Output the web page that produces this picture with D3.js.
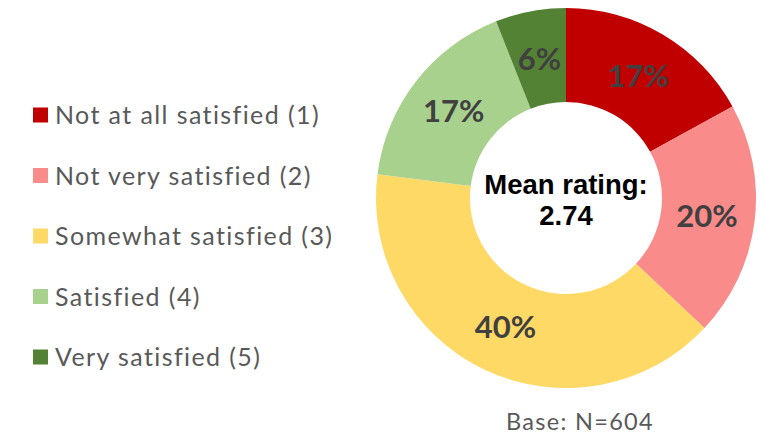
<!DOCTYPE html>
<html lang="en">
<head>
<meta charset="UTF-8" />
<title>Satisfaction</title>
<script src="https://d3js.org/d3.v7.min.js"></script>
<style>
  body { margin: 0; background: #fff; }
  text { font-family: "Lato", "Open Sans", sans-serif; }
</style>
</head>
<body>
<div class="canvas"></div>
<script>
const categories = ["Not at all satisfied (1)", "Not very satisfied (2)", "Somewhat satisfied (3)", "Satisfied (4)", "Very satisfied (5)"];
const shares = [17, 20, 40, 17, 6];
const pctLabels = ["17%", "20%", "40%", "17%", "6%"];
const colors = ["#C00000", "#F98B8B", "#FFD966", "#A9D18E", "#548235"];
const meanLines = ["Mean rating:", "2.74"];
const baseNote = "Base: N=604";

const width = 764, height = 446;
const cx = 566, cy = 198;
const outerR = 190, innerR = 96;

const svg = d3.select(".canvas").append("svg")
  .attr("width", width).attr("height", height);

const pie = d3.pie().sort(null).value(d => d)(shares);
const arc = d3.arc().innerRadius(innerR).outerRadius(outerR);
const labelArc = d3.arc().innerRadius(94).outerRadius(190);

const g = svg.append("g").attr("transform", `translate(${cx},${cy})`);

g.selectAll("path").data(pie).enter().append("path")
  .attr("d", arc)
  .attr("fill", (d, i) => colors[i]);

g.selectAll(".pct").data(pie).enter().append("text")
  .attr("class", "pct")
  .attr("transform", d => `translate(${labelArc.centroid(d)})`)
  .attr("text-anchor", "middle")
  .attr("dy", "0.36em")
  .attr("fill", "#404040")
  .style("font-size", "31px")
  .style("font-weight", "bold")
  .text((d, i) => pctLabels[i]);

// centre text
g.selectAll(".mean").data(meanLines).enter().append("text")
  .attr("class", "mean")
  .attr("text-anchor", "middle")
  .attr("y", (d, i) => -4 + i * 31)
  .attr("fill", "#000")
  .style("font-family", "'Liberation Sans', Arial, sans-serif")
  .style("font-size", "27.5px")
  .style("font-weight", "bold")
  .text(d => d);

svg.append("text")
  .attr("x", 580).attr("y", 430)
  .attr("text-anchor", "middle")
  .attr("fill", "#595959")
  .style("font-size", "23.5px")
  .style("letter-spacing", "1.3px")
  .text(baseNote);

// legend
const legend = svg.selectAll(".leg").data(categories).enter().append("g")
  .attr("class", "leg")
  .attr("transform", (d, i) => `translate(33,${115 + i * 60.5})`);

legend.append("rect")
  .attr("y", -7.5).attr("width", 15).attr("height", 15)
  .attr("fill", (d, i) => colors[i]);

legend.append("text")
  .attr("x", 22).attr("dy", "0.36em")
  .attr("fill", "#595959")
  .style("font-size", "25px")
  .style("letter-spacing", "1.4px")
  .text(d => d);
</script>
</body>
</html>
